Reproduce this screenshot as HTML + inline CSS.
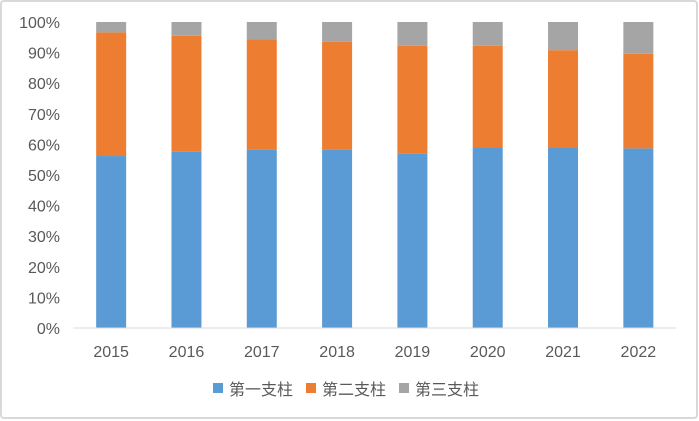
<!DOCTYPE html>
<html><head><meta charset="utf-8"><style>
body{margin:0;background:#fff;}
#wrap{position:relative;width:699px;height:421px;overflow:hidden;}
svg{position:absolute;left:0;top:0;font-family:"Liberation Sans","Noto Sans CJK SC",sans-serif;}
</style></head><body>
<div id="wrap">
<svg id="chart" width="699" height="421">
<rect x="1" y="1" width="696" height="417" rx="3" fill="#fff" stroke="#d9d9d9" stroke-width="2"/>
</svg>
</div>
<script>
const categories=["2015","2016","2017","2018","2019","2020","2021","2022"];
const pillar1=[56.2,57.6,58.4,58.4,56.9,59.0,59.0,58.7];
const pillar2=[40.4,37.9,35.9,35.1,35.3,33.2,31.8,30.9];
const pillar3=[3.4,4.5,5.7,6.5,7.8,7.8,9.2,10.4];
const yTicks=[0,10,20,30,40,50,60,70,80,90,100];
const seriesNames=["第一支柱","第二支柱","第三支柱"];
const colors=["#5b9bd5","#ed7d31","#a5a5a5"];
const NS="http://www.w3.org/2000/svg";
const svg=document.getElementById('chart');
const x0=73.5,x1=676,y0=328,y1=22;
const bw=(x1-x0)/categories.length, barW=30;
function yScale(v){return y0-(y0-y1)*v/100;}
function xCenter(i){return x0+bw*(i+0.5);}
function mk(tag,attrs){const e=document.createElementNS(NS,tag);for(const k in attrs)e.setAttribute(k,attrs[k]);svg.appendChild(e);return e;}
yTicks.forEach(t=>{
  const tx=mk('text',{x:60,y:yScale(t)+6,'text-anchor':'end','font-size':16,fill:'#595959'});
  tx.textContent=t+'%';
  
  
});
const series=[pillar1,pillar2,pillar3];
categories.forEach((c,i)=>{
  let base=0;
  series.forEach((s,k)=>{
    const r=mk('rect',{x:xCenter(i)-barW/2,y:yScale(base+s[i]),width:barW,height:yScale(base)-yScale(base+s[i]),fill:colors[k]});
    
    
    base+=s[i];
  });
  const tx=mk('text',{x:xCenter(i),y:357,'text-anchor':'middle','font-size':16,fill:'#595959'});
  tx.textContent=c;
  
  
});
const ax=mk('line',{x1:x0,y1:y0,x2:x1,y2:y0,stroke:'#d9d9d9','stroke-width':1});


const legX=[213,306,399];
seriesNames.forEach((n,k)=>{
  const r=mk('rect',{x:legX[k],y:383,width:10,height:10,fill:colors[k]});
  
  
  const t=mk('text',{x:legX[k]+16,y:395,'font-size':16,fill:'#595959'});
  t.textContent=n;
  
  
});
</script>
</body></html>
